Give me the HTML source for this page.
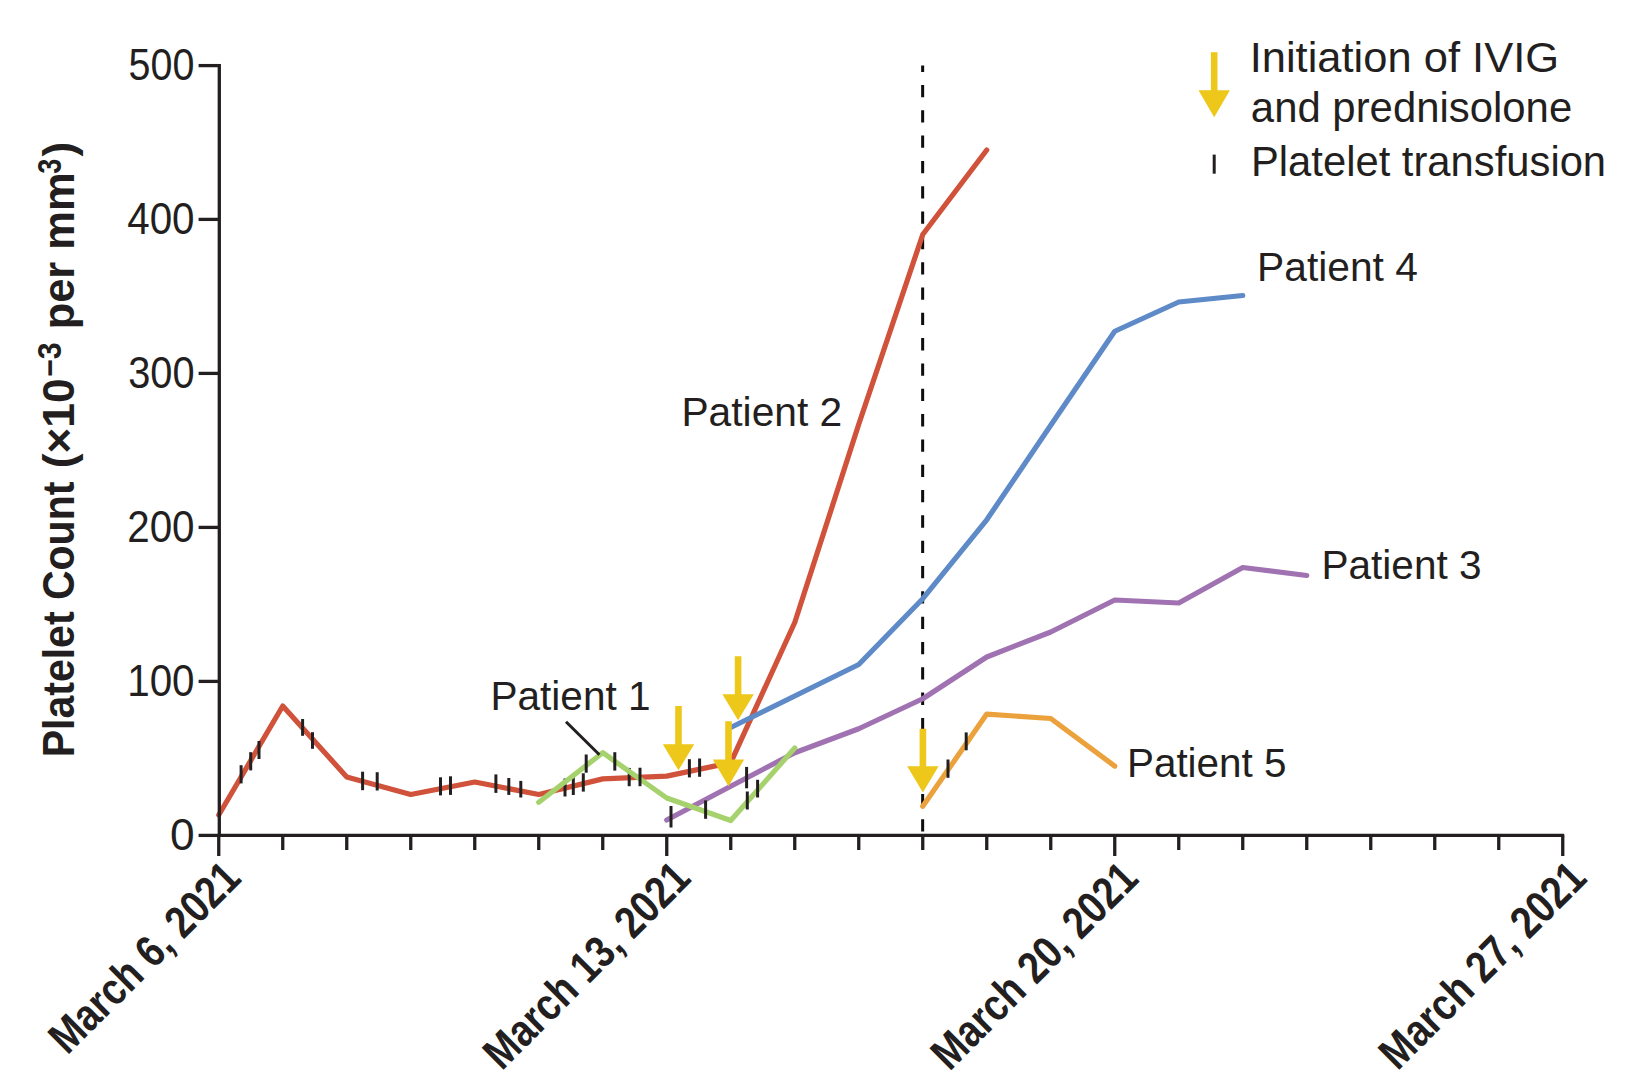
<!DOCTYPE html>
<html lang="en">
<head>
<meta charset="utf-8">
<title>Platelet Count</title>
<style>
html,body{margin:0;padding:0;background:#fff;}
body{width:1640px;height:1088px;overflow:hidden;}
svg{display:block;}
text{font-family:"Liberation Sans",sans-serif;fill:#231f20;}
.b{font-weight:bold;}
</style>
</head>
<body>
<svg width="1640" height="1088" viewBox="0 0 1640 1088">
<rect width="1640" height="1088" fill="#fff"/>
<line x1="922.65" y1="65.5" x2="922.65" y2="835" stroke="#0d0d0d" stroke-width="3" stroke-dasharray="12.3 13.02" stroke-dashoffset="5.9"/>
<polyline points="218.75,815.00 282.75,706.00 346.75,777.00 410.75,794.50 474.75,782.00 538.75,794.50 602.75,778.90 666.75,776.10 730.75,762.60 794.75,622.50 858.75,424.30 922.75,234.50 986.75,150.00" fill="none" stroke="#d0523a" stroke-width="5.2" stroke-linecap="round" stroke-linejoin="round"/>
<g stroke="#231f20" stroke-width="3">
<line x1="241.1" y1="765.2" x2="241.1" y2="783.4"/>
<line x1="250.7" y1="752.2" x2="250.7" y2="770.4"/>
<line x1="259" y1="741" x2="259" y2="759"/>
<line x1="302.6" y1="719" x2="302.6" y2="735.8"/>
<line x1="312.5" y1="732.2" x2="312.5" y2="748.8"/>
<line x1="362.6" y1="771.7" x2="362.6" y2="790.2"/>
<line x1="377.2" y1="772.2" x2="377.2" y2="790.5"/>
<line x1="440.5" y1="777.3" x2="440.5" y2="795.4"/>
<line x1="450.5" y1="776.3" x2="450.5" y2="794.9"/>
<line x1="495.9" y1="774.4" x2="495.9" y2="792.9"/>
<line x1="508.8" y1="778" x2="508.8" y2="794.9"/>
<line x1="520.8" y1="780.9" x2="520.8" y2="797.5"/>
<line x1="565" y1="778.5" x2="565" y2="796.5"/>
<line x1="573.3" y1="777" x2="573.3" y2="795"/>
<line x1="583.3" y1="773.3" x2="583.3" y2="791.6"/>
<line x1="629.2" y1="767.9" x2="629.2" y2="786.2"/>
<line x1="689.4" y1="759.2" x2="689.4" y2="777.4"/>
<line x1="699.6" y1="758.5" x2="699.6" y2="776.8"/>
</g>
<polyline points="730.75,727.50 858.75,664.50 922.75,598.70 986.75,519.80 1050.75,425.30 1114.75,331.25 1178.75,302.00 1242.75,295.50" fill="none" stroke="#5f8ac8" stroke-width="5.2" stroke-linecap="round" stroke-linejoin="round"/>
<polyline points="666.75,820.00 730.75,786.20 794.75,752.80 858.75,728.75 922.75,698.75 986.75,657.00 1050.75,632.00 1114.75,600.00 1178.75,603.00 1242.75,567.50 1306.75,575.50" fill="none" stroke="#a072b2" stroke-width="5.2" stroke-linecap="round" stroke-linejoin="round"/>
<g stroke="#231f20" stroke-width="3">
<line x1="671" y1="806" x2="671" y2="827.5"/>
<line x1="746.6" y1="766.9" x2="746.6" y2="788.3"/>
</g>
<polyline points="538.75,802.30 602.75,752.70 666.75,798.00 730.75,820.50 794.75,748.00" fill="none" stroke="#a6d26e" stroke-width="5.2" stroke-linecap="round" stroke-linejoin="round"/>
<g stroke="#231f20" stroke-width="3">
<line x1="586.2" y1="754.5" x2="586.2" y2="772.7"/>
<line x1="614.8" y1="752.2" x2="614.8" y2="770.6"/>
<line x1="640" y1="767.7" x2="640" y2="786.2"/>
<line x1="705.6" y1="800.4" x2="705.6" y2="818.8"/>
<line x1="747.3" y1="791.5" x2="747.3" y2="809.5"/>
<line x1="757.6" y1="779.8" x2="757.6" y2="797.5"/>
</g>
<polyline points="922.75,806.30 986.75,714.10 1050.75,718.50 1114.75,766.10" fill="none" stroke="#eca23c" stroke-width="5.2" stroke-linecap="round" stroke-linejoin="round"/>
<g stroke="#231f20" stroke-width="3">
<line x1="948" y1="759.5" x2="948" y2="777.8"/>
<line x1="966.2" y1="732.4" x2="966.2" y2="750.3"/>
</g>
<g stroke="#231f20" stroke-width="3.3" fill="none">
<path d="M219.3,64.1 V835.4 H1564.2"/>
<line x1="198.6" y1="835.4" x2="219.3" y2="835.4"/>
<line x1="198.6" y1="681.4" x2="219.3" y2="681.4"/>
<line x1="198.6" y1="527.4" x2="219.3" y2="527.4"/>
<line x1="198.6" y1="373.4" x2="219.3" y2="373.4"/>
<line x1="198.6" y1="219.39999999999998" x2="219.3" y2="219.39999999999998"/>
<line x1="198.6" y1="65.6" x2="219.3" y2="65.6"/>
<line x1="218.75" y1="835.4" x2="218.75" y2="856"/>
<line x1="282.75" y1="835.4" x2="282.75" y2="850"/>
<line x1="346.75" y1="835.4" x2="346.75" y2="850"/>
<line x1="410.75" y1="835.4" x2="410.75" y2="850"/>
<line x1="474.75" y1="835.4" x2="474.75" y2="850"/>
<line x1="538.75" y1="835.4" x2="538.75" y2="850"/>
<line x1="602.75" y1="835.4" x2="602.75" y2="850"/>
<line x1="666.75" y1="835.4" x2="666.75" y2="856"/>
<line x1="730.75" y1="835.4" x2="730.75" y2="850"/>
<line x1="794.75" y1="835.4" x2="794.75" y2="850"/>
<line x1="858.75" y1="835.4" x2="858.75" y2="850"/>
<line x1="922.75" y1="835.4" x2="922.75" y2="850"/>
<line x1="986.75" y1="835.4" x2="986.75" y2="850"/>
<line x1="1050.75" y1="835.4" x2="1050.75" y2="850"/>
<line x1="1114.75" y1="835.4" x2="1114.75" y2="856"/>
<line x1="1178.75" y1="835.4" x2="1178.75" y2="850"/>
<line x1="1242.75" y1="835.4" x2="1242.75" y2="850"/>
<line x1="1306.75" y1="835.4" x2="1306.75" y2="850"/>
<line x1="1370.75" y1="835.4" x2="1370.75" y2="850"/>
<line x1="1434.75" y1="835.4" x2="1434.75" y2="850"/>
<line x1="1498.75" y1="835.4" x2="1498.75" y2="850"/>
<line x1="1562.75" y1="835.4" x2="1562.75" y2="856"/>
</g>
<g stroke="#231f20" stroke-width="3">
<line x1="1214.2" y1="154.6" x2="1214.2" y2="173.7"/>
<line x1="566" y1="721.7" x2="599.4" y2="754.8"/>
</g>
<path d="M675.20,706 H681.80 V744.3 H694.20 L678.50,770.3 L662.80,744.3 H675.20 Z" fill="#edc81a"/>
<path d="M734.80,656.2 H741.40 V694.2 H753.80 L738.10,720.3 L722.40,694.2 H734.80 Z" fill="#edc81a"/>
<path d="M725.20,721.3 H731.80 V759.4 H744.20 L728.50,786.2 L712.80,759.4 H725.20 Z" fill="#edc81a"/>
<path d="M919.60,728.8 H926.20 V766.3 H938.60 L922.90,792.6 L907.20,766.3 H919.60 Z" fill="#edc81a"/>
<path d="M1210.90,52.3 H1217.50 V90.3 H1229.90 L1214.20,117.3 L1198.50,90.3 H1210.90 Z" fill="#edc81a"/>
<text transform="translate(0.00,849.60)" x="169.95" font-size="44.5" textLength="24.60" lengthAdjust="spacingAndGlyphs">0</text>
<text transform="translate(0.00,695.60)" x="127.20" font-size="44.5" textLength="67.35" lengthAdjust="spacingAndGlyphs">100</text>
<text transform="translate(0.00,541.60)" x="127.20" font-size="44.5" textLength="67.35" lengthAdjust="spacingAndGlyphs">200</text>
<text transform="translate(0.00,387.60)" x="128.20" font-size="44.5" textLength="66.35" lengthAdjust="spacingAndGlyphs">300</text>
<text transform="translate(0.00,233.60)" x="127.20" font-size="44.5" textLength="67.35" lengthAdjust="spacingAndGlyphs">400</text>
<text transform="translate(0.00,79.60)" x="128.60" font-size="44.5" textLength="65.85" lengthAdjust="spacingAndGlyphs">500</text>
<text transform="translate(0.00,709.80)" x="490.45" font-size="41.3" textLength="160.10" lengthAdjust="spacingAndGlyphs">Patient 1</text>
<text transform="translate(0.00,426.25)" x="681.45" font-size="41.3" textLength="160.85" lengthAdjust="spacingAndGlyphs">Patient 2</text>
<text transform="translate(0.00,578.75)" x="1321.45" font-size="41.3" textLength="160.10" lengthAdjust="spacingAndGlyphs">Patient 3</text>
<text transform="translate(0.00,280.90)" x="1257.05" font-size="41.3" textLength="160.85" lengthAdjust="spacingAndGlyphs">Patient 4</text>
<text transform="translate(0.00,777.00)" x="1126.95" font-size="41.3" textLength="159.60" lengthAdjust="spacingAndGlyphs">Patient 5</text>
<text transform="translate(0.00,71.90)" x="1249.70" font-size="43" textLength="309.35" lengthAdjust="spacingAndGlyphs">Initiation of IVIG</text>
<text transform="translate(0.00,121.50)" x="1250.85" font-size="43" textLength="321.35" lengthAdjust="spacingAndGlyphs">and prednisolone</text>
<text transform="translate(0.00,175.70)" x="1251.00" font-size="43" textLength="355.10" lengthAdjust="spacingAndGlyphs">Platelet transfusion</text>
<text class="b" transform="translate(73.90,754.70) rotate(-90)" x="-2.55" font-size="45" textLength="275.60" lengthAdjust="spacingAndGlyphs">Platelet Count</text>
<text class="b" transform="translate(73.90,466.20) rotate(-90)" x="-2.05" font-size="45" textLength="89.85" lengthAdjust="spacingAndGlyphs">(×10</text>
<text class="b" transform="translate(61.20,375.70) rotate(-90)" x="-1.05" font-size="33" textLength="34.35" lengthAdjust="spacingAndGlyphs">−3</text>
<text class="b" transform="translate(73.90,326.80) rotate(-90)" x="-2.55" font-size="45" textLength="156.85" lengthAdjust="spacingAndGlyphs">per mm</text>
<text class="b" transform="translate(61.20,173.30) rotate(-90)" x="-0.55" font-size="33" textLength="15.10" lengthAdjust="spacingAndGlyphs">3</text>
<text class="b" transform="translate(73.90,156.80) rotate(-90)" x="0.20" font-size="45" textLength="14.60" lengthAdjust="spacingAndGlyphs">)</text>
<text class="b" transform="translate(242.20,881.00) rotate(-45)" x="-247.30" font-size="45" textLength="248.10" lengthAdjust="spacingAndGlyphs">March 6, 2021</text>
<text class="b" transform="translate(692.20,881.00) rotate(-45)" x="-269.30" font-size="45" textLength="270.10" lengthAdjust="spacingAndGlyphs">March 13, 2021</text>
<text class="b" transform="translate(1139.80,881.50) rotate(-45)" x="-269.30" font-size="45" textLength="270.10" lengthAdjust="spacingAndGlyphs">March 20, 2021</text>
<text class="b" transform="translate(1588.00,881.00) rotate(-45)" x="-269.30" font-size="45" textLength="270.10" lengthAdjust="spacingAndGlyphs">March 27, 2021</text>
</svg>
</body>
</html>
